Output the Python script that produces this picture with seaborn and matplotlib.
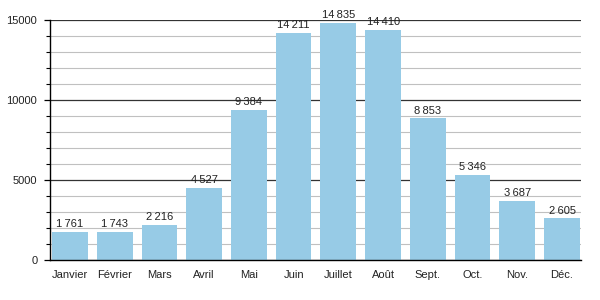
import matplotlib
matplotlib.use("Agg")
import matplotlib.pyplot as plt
import seaborn as sns
import pandas as pd
from matplotlib.ticker import MultipleLocator

months = ["Janvier", "Février", "Mars", "Avril", "Mai", "Juin", "Juillet",
          "Août", "Sept.", "Oct.", "Nov.", "Déc."]
values = [1761, 1743, 2216, 4527, 9384, 14211, 14835, 14410, 8853, 5346, 3687, 2605]
yticks = [0, 5000, 10000, 15000]

sns.set_theme(style="white")
plt.rcParams['font.family'] = ['Liberation Sans', 'DejaVu Sans']

df = pd.DataFrame({"mois": months, "val": values})
fig = plt.figure(figsize=(6, 3), dpi=100)
ax = fig.add_axes([0.083, 0.133, 0.885, 0.80])
sns.barplot(data=df, x="mois", y="val", color="#97CBE6", saturation=1,
            width=0.8, ax=ax, zorder=3)
for p in ax.patches:
    p.set_edgecolor("none")

ax.set_ylim(0, 15000)
ax.set_xlim(-0.45, 11.42)
ax.set_yticks(yticks)
ax.set_yticklabels([str(v) for v in yticks])
ax.yaxis.set_minor_locator(MultipleLocator(1000))
ax.grid(axis="y", which="minor", color="#c0c0c0", linewidth=0.8, zorder=0)
ax.grid(axis="y", which="major", color="#333333", linewidth=0.9, zorder=1)
ax.set_axisbelow(True)
ax.tick_params(axis="y", which="major", left=True, length=4, width=0.9,
               color="black", labelsize=8, pad=5, labelcolor="#222222")
ax.tick_params(axis="y", which="minor", left=True, length=3, width=0.8,
               color="black")
ax.tick_params(axis="x", bottom=False, labelsize=8, pad=1, labelcolor="#222222")
ax.set_xlabel("")
ax.set_ylabel("")
for s in ["top", "right"]:
    ax.spines[s].set_visible(False)
for s in ["left", "bottom"]:
    ax.spines[s].set_color("black")
    ax.spines[s].set_linewidth(1.0)
    ax.spines[s].set_zorder(5)

labels = [f"{v:,}".replace(",", "\u2009") for v in values]
texts = ax.bar_label(ax.containers[0], labels=labels, padding=2, fontsize=8,
                     color="#222222")
for t in texts:
    t.set_clip_on(False)

fig.savefig("out.png", dpi=100)
